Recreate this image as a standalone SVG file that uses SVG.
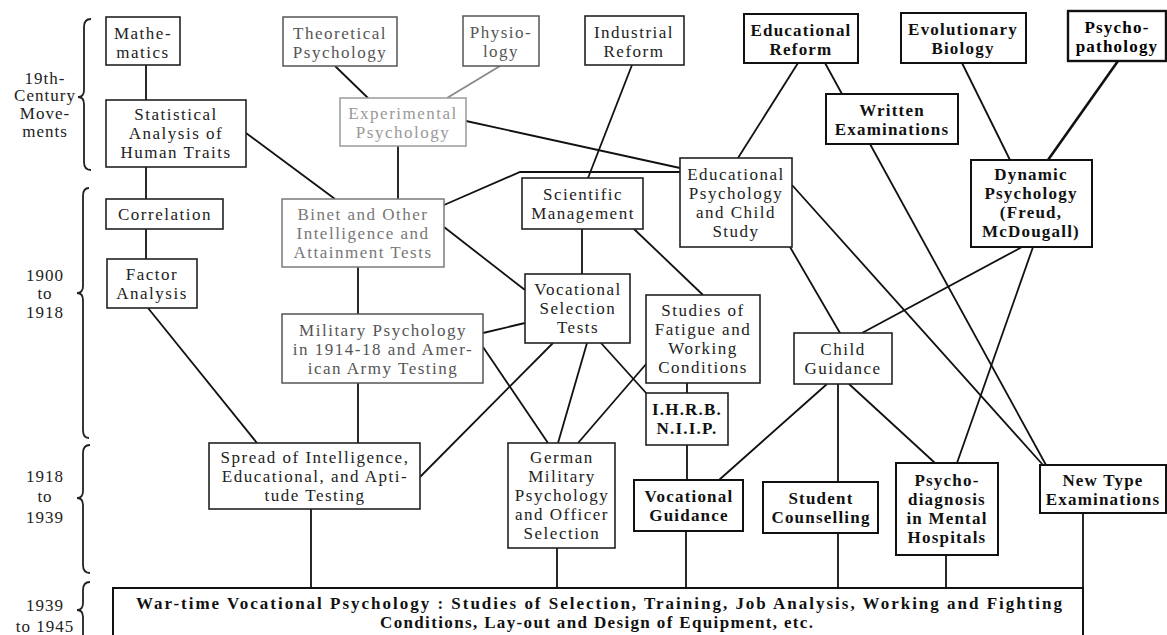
<svg xmlns="http://www.w3.org/2000/svg" width="1167" height="635" viewBox="0 0 1167 635">
<style>
.bg{fill:#fff}
.box{fill:#fff;stroke:#222;stroke-width:1.6}
.boxb{fill:#fff;stroke:#111;stroke-width:2}
.boxl1{fill:#fff;stroke:#9a9a9a;stroke-width:1.5}
.boxl2{fill:#fff;stroke:#7a7a7a;stroke-width:1.5}
.boxl3{fill:#fff;stroke:#555;stroke-width:1.5}
.t{font-family:"Liberation Serif","Times New Roman",serif;font-size:17px;letter-spacing:1.5px;text-anchor:middle;fill:#222}
.b{font-weight:bold;letter-spacing:1.2px;fill:#111}
.l1{fill:#999}
.l2{fill:#777}
.l3{fill:#555}
.lab{font-family:"Liberation Serif","Times New Roman",serif;font-size:17px;letter-spacing:1px;text-anchor:middle;fill:#222}
.c{stroke:#111;stroke-width:1.8;fill:none}
.cg{stroke:#888;stroke-width:1.8;fill:none}
.brace{stroke:#222;stroke-width:1.8;fill:none}
</style>
<rect class="bg" x="0" y="0" width="1167" height="635"/>

<g id="periods">
<path class="brace" d="M91 19 Q84 19 84 27 L84 90 Q84 97 78 97 Q84 97 84 104 L84 162 Q84 170 91 170"/>
<path class="brace" d="M89 188 Q83 188 83 196 L83 286 Q83 293 77 293 Q83 293 83 300 L83 430 Q83 438 89 438"/>
<path class="brace" d="M90 445 Q83 445 83 453 L83 491 Q83 498 77 498 Q83 498 83 505 L83 565 Q83 573 90 573"/>
<path class="brace" d="M90 582 Q83 582 83 590 L83 603 Q83 610 77 610 Q83 610 83 617 L83 645"/>
<text class="lab" x="45" y="84">19th-</text>
<text class="lab" x="45" y="101">Century</text>
<text class="lab" x="45" y="119">Move-</text>
<text class="lab" x="45" y="137">ments</text>
<text class="lab" x="45" y="281">1900</text>
<text class="lab" x="45" y="299">to</text>
<text class="lab" x="45" y="318">1918</text>
<text class="lab" x="45" y="482">1918</text>
<text class="lab" x="45" y="502">to</text>
<text class="lab" x="45" y="523">1939</text>
<text class="lab" x="45" y="611">1939</text>
<text class="lab" x="45" y="632">to 1945</text>
</g>

<g id="connectors">
<line class="c" x1="146" y1="65" x2="146" y2="100"/>
<line class="c" x1="146" y1="167" x2="146" y2="199"/>
<line class="c" x1="146" y1="229" x2="146" y2="259"/>
<line class="c" x1="148" y1="308" x2="257" y2="443"/>
<line class="c" x1="246" y1="133" x2="335" y2="199"/>
<line class="c" x1="335" y1="66" x2="368" y2="98"/>
<line class="cg" x1="500" y1="66" x2="447" y2="98"/>
<line class="c" x1="466" y1="121" x2="680" y2="168"/>
<line class="c" x1="398" y1="146" x2="398" y2="199"/>
<polyline class="c" points="444,205 520,172 680,172"/>
<line class="c" x1="632" y1="65" x2="588" y2="178"/>
<line class="c" x1="798" y1="63" x2="738" y2="158"/>
<line class="c" x1="825" y1="63" x2="842" y2="94"/>
<line class="c" x1="962" y1="63" x2="1010" y2="160"/>
<line class="c" x1="1118" y1="61" x2="1048" y2="160" style="stroke-width:2.6"/>
<line class="c" x1="870" y1="144" x2="1046" y2="465"/>
<line class="c" x1="792" y1="185" x2="1043" y2="465"/>
<line class="c" x1="790" y1="247" x2="840" y2="333"/>
<line class="c" x1="1022" y1="247" x2="862" y2="333"/>
<line class="c" x1="1033" y1="247" x2="957" y2="463"/>
<line class="c" x1="827" y1="384" x2="719" y2="480"/>
<line class="c" x1="838" y1="384" x2="838" y2="482"/>
<line class="c" x1="849" y1="384" x2="935" y2="463"/>
<line class="c" x1="582" y1="229" x2="582" y2="274"/>
<line class="c" x1="634" y1="229" x2="703" y2="295"/>
<line class="c" x1="444" y1="227" x2="525" y2="290"/>
<line class="c" x1="358" y1="267" x2="358" y2="314"/>
<line class="c" x1="483" y1="333" x2="525" y2="323"/>
<line class="c" x1="483" y1="347" x2="548" y2="443"/>
<line class="c" x1="358" y1="383" x2="358" y2="443"/>
<line class="c" x1="553" y1="343" x2="420" y2="477"/>
<line class="c" x1="587" y1="343" x2="558" y2="443"/>
<line class="c" x1="647" y1="363" x2="578" y2="443"/>
<line class="c" x1="601" y1="343" x2="647" y2="394"/>
<line class="c" x1="687" y1="383" x2="687" y2="393"/>
<line class="c" x1="687" y1="445" x2="687" y2="480"/>
<line class="c" x1="311" y1="509" x2="311" y2="588"/>
<line class="c" x1="557" y1="548" x2="557" y2="588"/>
<line class="c" x1="686" y1="531" x2="686" y2="588"/>
<line class="c" x1="838" y1="533" x2="838" y2="588"/>
<line class="c" x1="946" y1="555" x2="946" y2="588"/>
<line class="c" x1="1083" y1="513" x2="1083" y2="588"/>
</g>

<g id="n-mathematics"><rect class="box" x="106" y="17" width="74" height="48"/>
<text class="t" x="143" y="39">Mathe-</text><text class="t" x="143" y="58">matics</text></g>

<g id="n-statistical"><rect class="box" x="106" y="100" width="140" height="67"/>
<text class="t" x="176" y="120">Statistical</text><text class="t" x="176" y="139">Analysis of</text><text class="t" x="176" y="158">Human Traits</text></g>

<g id="n-theoretical"><rect class="boxl3" x="283" y="17" width="114" height="49"/>
<text class="t l3" x="340" y="39">Theoretical</text><text class="t l3" x="340" y="58">Psychology</text></g>

<g id="n-physiology"><rect class="boxl3" x="463" y="16" width="76" height="50"/>
<text class="t l3" x="501" y="38">Physio-</text><text class="t l3" x="501" y="57">logy</text></g>

<g id="n-experimental"><rect class="boxl1" x="340" y="98" width="126" height="48"/>
<text class="t l1" x="403" y="119">Experimental</text><text class="t l1" x="403" y="138">Psychology</text></g>

<g id="n-industrial"><rect class="box" x="585" y="16" width="99" height="49"/>
<text class="t" x="634" y="38">Industrial</text><text class="t" x="634" y="57">Reform</text></g>

<g id="n-edreform"><rect class="boxb" x="744" y="14" width="114" height="49"/>
<text class="t b" x="801" y="36">Educational</text><text class="t b" x="801" y="55">Reform</text></g>

<g id="n-written"><rect class="boxb" x="826" y="94" width="132" height="50"/>
<text class="t b" x="892" y="116">Written</text><text class="t b" x="892" y="135">Examinations</text></g>

<g id="n-edpsych"><rect class="box" x="680" y="158" width="112" height="89"/>
<text class="t" x="736" y="180">Educational</text><text class="t" x="736" y="199">Psychology</text><text class="t" x="736" y="218">and Child</text><text class="t" x="736" y="237">Study</text></g>

<g id="n-evolutionary"><rect class="boxb" x="901" y="13" width="125" height="50"/>
<text class="t b" x="963" y="35">Evolutionary</text><text class="t b" x="963" y="54">Biology</text></g>

<g id="n-psychopathology"><rect class="boxb" x="1068" y="11" width="98" height="50" style="stroke-width:2.4"/>
<text class="t b" x="1117" y="33" style="fill:#000">Psycho-</text><text class="t b" x="1117" y="52" style="fill:#000">pathology</text></g>

<g id="n-dynamic"><rect class="boxb" x="971" y="160" width="121" height="87"/>
<text class="t b" x="1031" y="180">Dynamic</text><text class="t b" x="1031" y="199">Psychology</text><text class="t b" x="1031" y="218">(Freud,</text><text class="t b" x="1031" y="237">McDougall)</text></g>

<g id="n-correlation"><rect class="box" x="106" y="199" width="117" height="30"/>
<text class="t" x="165" y="220">Correlation</text></g>

<g id="n-factor"><rect class="box" x="107" y="259" width="90" height="49"/>
<text class="t" x="152" y="280">Factor</text><text class="t" x="152" y="299">Analysis</text></g>

<g id="n-binet"><rect class="boxl2" x="282" y="199" width="162" height="68"/>
<text class="t l2" x="363" y="220">Binet and Other</text><text class="t l2" x="363" y="239">Intelligence and</text><text class="t l2" x="363" y="258">Attainment Tests</text></g>

<g id="n-scientific"><rect class="box" x="522" y="178" width="121" height="51"/>
<text class="t" x="583" y="200">Scientific</text><text class="t" x="583" y="219">Management</text></g>

<g id="n-vocsel"><rect class="box" x="525" y="274" width="105" height="69"/>
<text class="t" x="578" y="295">Vocational</text><text class="t" x="578" y="314">Selection</text><text class="t" x="578" y="333">Tests</text></g>

<g id="n-military"><rect class="boxl3" x="282" y="314" width="201" height="69"/>
<text class="t l3" x="383" y="336">Military Psychology</text><text class="t l3" x="383" y="355">in 1914-18 and Amer-</text><text class="t l3" x="383" y="374">ican Army Testing</text></g>

<g id="n-fatigue"><rect class="box" x="646" y="295" width="114" height="88"/>
<text class="t" x="703" y="316">Studies of</text><text class="t" x="703" y="335">Fatigue and</text><text class="t" x="703" y="354">Working</text><text class="t" x="703" y="373">Conditions</text></g>

<g id="n-child"><rect class="box" x="794" y="333" width="98" height="51"/>
<text class="t" x="843" y="355">Child</text><text class="t" x="843" y="374">Guidance</text></g>

<g id="n-ihrb"><rect class="box" x="646" y="393" width="82" height="52"/>
<text class="t b" x="687" y="415">I.H.R.B.</text><text class="t b" x="687" y="434">N.I.I.P.</text></g>

<g id="n-spread"><rect class="box" x="209" y="443" width="211" height="66"/>
<text class="t" x="315" y="463">Spread of Intelligence,</text><text class="t" x="315" y="482">Educational, and Apti-</text><text class="t" x="315" y="501">tude Testing</text></g>

<g id="n-german"><rect class="box" x="508" y="443" width="107" height="105"/>
<text class="t" x="562" y="463">German</text><text class="t" x="562" y="482">Military</text><text class="t" x="562" y="501">Psychology</text><text class="t" x="562" y="520">and Officer</text><text class="t" x="562" y="539">Selection</text></g>

<g id="n-vocguid"><rect class="boxb" x="634" y="480" width="109" height="51"/>
<text class="t b" x="689" y="502">Vocational</text><text class="t b" x="689" y="521">Guidance</text></g>

<g id="n-student"><rect class="boxb" x="763" y="482" width="115" height="51"/>
<text class="t b" x="821" y="504">Student</text><text class="t b" x="821" y="523">Counselling</text></g>

<g id="n-psychodiag"><rect class="boxb" x="896" y="463" width="102" height="92"/>
<text class="t b" x="947" y="486">Psycho-</text><text class="t b" x="947" y="505">diagnosis</text><text class="t b" x="947" y="524">in Mental</text><text class="t b" x="947" y="543">Hospitals</text></g>

<g id="n-newtype"><rect class="boxb" x="1040" y="465" width="126" height="48"/>
<text class="t b" x="1103" y="486">New Type</text><text class="t b" x="1103" y="505">Examinations</text></g>

<g id="n-wartime"><rect class="boxb" x="113" y="588" width="970" height="60"/>
<text class="t b" x="136" y="609" style="text-anchor:start;letter-spacing:0" textLength="926" lengthAdjust="spacing">War-time Vocational Psychology :  Studies of Selection, Training, Job Analysis, Working and Fighting</text>
<text class="t b" x="380" y="628" style="text-anchor:start;letter-spacing:0" textLength="433" lengthAdjust="spacing">Conditions, Lay-out and Design of Equipment, etc.</text></g>
</svg>
